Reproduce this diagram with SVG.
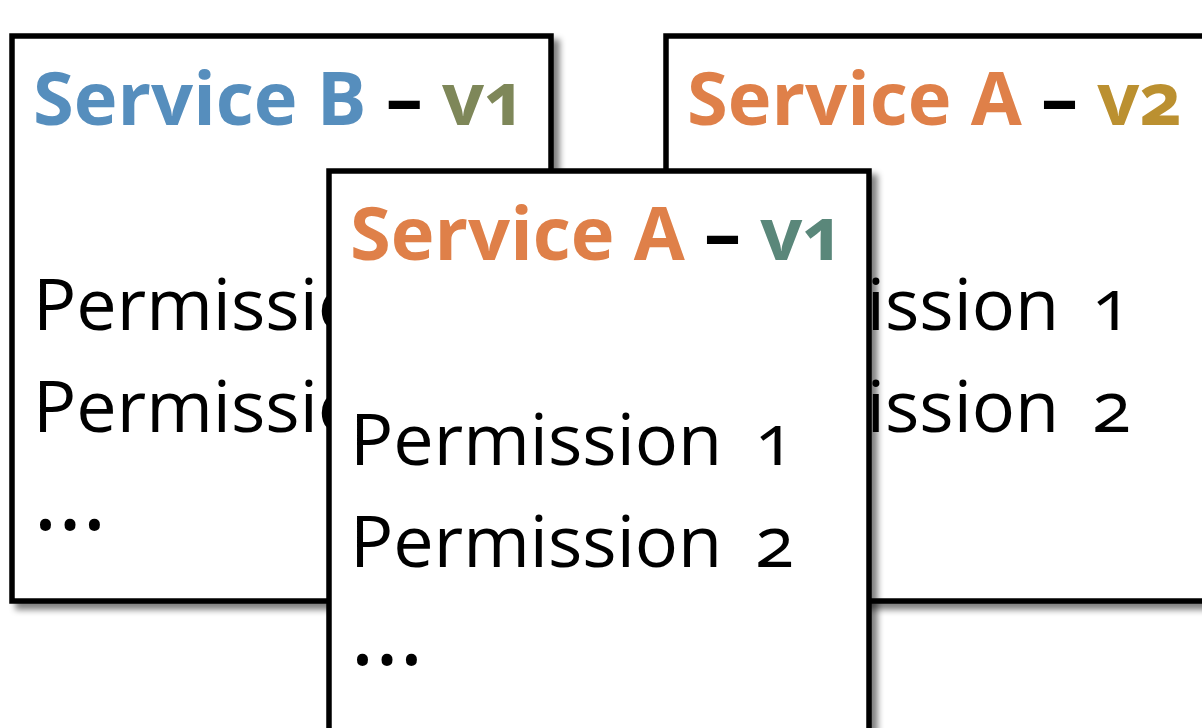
<svg xmlns="http://www.w3.org/2000/svg" width="1202" height="728" viewBox="0 0 1202 728">
<defs>
<filter id="sh" x="-10%" y="-10%" width="130%" height="130%">
<feGaussianBlur in="SourceAlpha" stdDeviation="3"/>
<feOffset dx="6" dy="6" result="b"/>
<feComponentTransfer><feFuncA type="linear" slope="0.5"/></feComponentTransfer>
<feMerge><feMergeNode/><feMergeNode in="SourceGraphic"/></feMerge>
</filter>
<style>
.card{fill:#fff;stroke:#000;stroke-width:5.5}
.t{font-family:"Open Sans","Noto Sans",sans-serif;font-weight:bold;font-size:74px;font-variant-numeric:oldstyle-nums}
.p{font-family:"Open Sans","Noto Sans",sans-serif;font-size:72px;fill:#000;font-variant-numeric:oldstyle-nums;word-spacing:14px}
.e{font-family:"Open Sans","Noto Sans",sans-serif;font-size:95px;fill:#000}
.d{fill:#000}
.sb{fill:#568EBD}.sa{fill:#DF8049}.v1b{fill:#7E8759}.v2{fill:#BB9030}.v1a{fill:#5A877A}
</style>
</defs>
<rect width="1202" height="728" fill="#fff"/>
<g id="serviceB-v1">
<rect class="card" x="12" y="36" width="539" height="565" filter="url(#sh)"/>
<text class="t" x="33" y="125"><tspan class="sb">Service B</tspan><tspan class="d"> – </tspan><tspan class="v1b">v1</tspan></text>
<text class="p" x="33" y="330">Permission 1</text>
<text class="p" x="33" y="432">Permission 2</text>
<text class="e" x="33" y="530">…</text>
</g>
<g id="serviceA-v2">
<rect class="card" x="666" y="36" width="560" height="565" filter="url(#sh)"/>
<text class="t" x="687" y="125"><tspan class="sa">Service A</tspan><tspan class="d"> – </tspan><tspan class="v2">v2</tspan></text>
<text class="p" x="687" y="330">Permission 1</text>
<text class="p" x="687" y="432">Permission 2</text>
<text class="e" x="687" y="530">…</text>
</g>
<g id="serviceA-v1">
<rect class="card" x="329" y="171" width="540" height="600" filter="url(#sh)"/>
<text class="t" x="350" y="260"><tspan class="sa">Service A</tspan><tspan class="d"> – </tspan><tspan class="v1a">v1</tspan></text>
<text class="p" x="350" y="465">Permission 1</text>
<text class="p" x="350" y="567">Permission 2</text>
<text class="e" x="350" y="665">…</text>
</g>
<g id="connectors"/>
</svg>
